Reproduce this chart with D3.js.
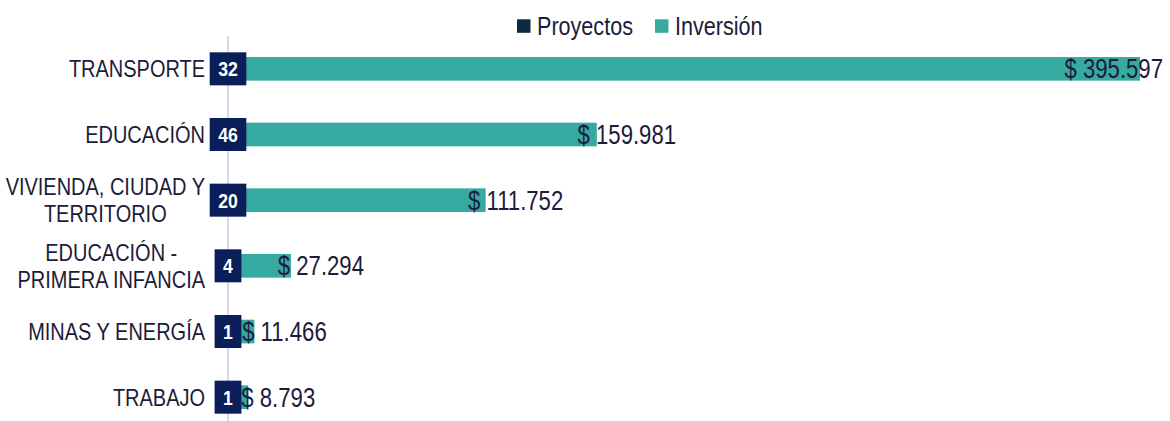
<!DOCTYPE html>
<html>
<head>
<meta charset="utf-8">
<script src="https://cdn.jsdelivr.net/npm/d3@7"></script>
<style>
  body { margin: 0; background: #fff; }
  text { font-family: "Liberation Sans", Arial, sans-serif; }
</style>
</head>
<body>
<div id="chart"></div>
<script>
// chart data
const categories = ['TRANSPORTE', 'EDUCACIÓN', 'VIVIENDA, CIUDAD Y|TERRITORIO', 'EDUCACIÓN -|PRIMERA INFANCIA', 'MINAS Y ENERGÍA', 'TRABAJO'];
const proyectos = [32, 46, 20, 4, 1, 1];
const inversion = [395597, 159981, 111752, 27294, 11466, 8793];
const seriesNames = ['Proyectos', 'Inversión'];

const width = 1170, height = 421;
const margin = {top: 36, right: 29, bottom: -9, left: 228};
const colors = {proy: '#0c2a3e', box: '#0a1f5a', inv: '#36aaa1', text: '#1d1b3a', axis: '#cdc8ec'};

const svg = d3.select('#chart').append('svg')
    .attr('width', width)
    .attr('height', height);

// no narrow font installed, so squeeze the glyphs to look like Arial Narrow
function squeeze(t, k) {
    const w = t.node().getComputedTextLength() * k;
    t.attr('textLength', w).attr('lengthAdjust', 'spacingAndGlyphs');
    return w;
}

const x = d3.scaleLinear()
    .domain([0, 395597])
    .range([margin.left, width - margin.right - 1]);

const y = d3.scaleBand()
    .domain(categories)
    .range([margin.top, height - margin.bottom])
    .paddingInner(0.64)
    .paddingOuter(0.32);

const fmt = v => '$ ' + d3.format(',')(v).replace(/,/g, '.');

// teal bars (inversion)
svg.append('g')
    .selectAll('rect')
    .data(categories)
    .enter().append('rect')
        .attr('x', x(0))
        .attr('y', d => y(d))
        .attr('width', (d, i) => x(inversion[i]) - x(0))
        .attr('height', y.bandwidth())
        .attr('fill', colors.inv);

// vertical axis line
svg.append('line')
    .attr('x1', x(0)).attr('x2', x(0))
    .attr('y1', margin.top).attr('y2', height)
    .attr('stroke', colors.axis)
    .attr('stroke-width', 1.5);

// category labels, multi-line ones centered on each other
const catG = svg.append('g');
categories.forEach(c => {
    const lines = c.split('|');
    const cy = y(c) + y.bandwidth() / 2;
    const made = lines.map((l, j) => {
        const t = catG.append('text')
            .attr('fill', colors.text)
            .attr('font-size', 24.5)
            .attr('y', cy + (j - (lines.length - 1) / 2) * 27.5)
            .attr('dy', '0.35em')
            .text(l);
        return {t: t, w: squeeze(t, 0.815)};
    });
    const maxW = d3.max(made, m => m.w);
    made.forEach(m => m.t.attr('x', 205 - maxW / 2 - m.w / 2));
});

// value labels for inversion
const valG = svg.append('g');
categories.forEach((c, i) => {
    const t = valG.append('text')
        .attr('fill', colors.text)
        .attr('font-size', 27)
        .attr('y', y(c) + y.bandwidth() / 2)
        .attr('dy', '0.35em')
        .text(fmt(inversion[i]));
    const w = squeeze(t, 0.82);
    let cx = x(inversion[i]) + 30;
    if (cx + w / 2 > width - 7) cx = width - 7 - w / 2;
    t.attr('x', cx - w / 2);
});

// proyectos label boxes centred on the axis
const boxG = svg.append('g');
categories.forEach((c, i) => {
    const cy = y(c) + y.bandwidth() / 2;
    const t = boxG.append('text')
        .attr('y', cy)
        .attr('dy', '0.36em')
        .attr('font-size', 20.5)
        .attr('font-weight', 'bold')
        .attr('fill', '#fff')
        .text(proyectos[i]);
    const w = squeeze(t, 0.86);
    t.attr('x', x(0) - w / 2);
    boxG.insert('rect', 'text')
        .attr('x', x(0) - w / 2 - 8.5)
        .attr('y', cy - 16.5)
        .attr('width', w + 17)
        .attr('height', 33)
        .attr('fill', colors.box);
});

// legend
const legend = svg.append('g').attr('transform', 'translate(517,26)');
let lx = 0;
seriesNames.forEach((s, i) => {
    const item = legend.append('g').attr('transform', `translate(${lx},0)`);
    item.append('rect')
        .attr('y', -6.7)
        .attr('width', 13.5)
        .attr('height', 13.5)
        .attr('fill', i === 0 ? colors.proy : colors.inv);
    const t = item.append('text')
        .attr('x', 20)
        .attr('dy', '0.35em')
        .attr('font-size', 26)
        .attr('fill', colors.text)
        .text(s);
    lx += 20 + squeeze(t, 0.83) + 22;
});
</script>
</body>
</html>
